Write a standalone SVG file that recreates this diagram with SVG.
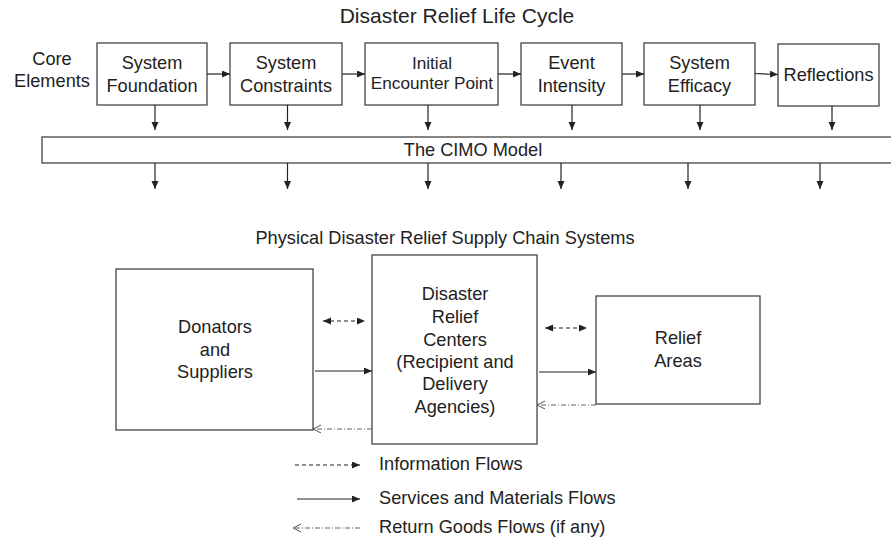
<svg xmlns="http://www.w3.org/2000/svg" width="891" height="538" viewBox="0 0 891 538">
<defs>
<marker id="ah" markerUnits="userSpaceOnUse" markerWidth="9" markerHeight="8" refX="8" refY="3.5" orient="auto-start-reverse"><path d="M0,0 L8,3.5 L0,7 z" fill="#222"/></marker>
<marker id="chev" markerUnits="userSpaceOnUse" markerWidth="10" markerHeight="10" refX="8" refY="4.5" orient="auto"><path d="M0,0.5 L8,4.5 L0,8.5" fill="none" stroke="#555" stroke-width="1"/></marker>
<style>
text{font-family:"Liberation Sans",Arial,sans-serif;font-size:18.2px;fill:#222;text-anchor:middle}
.box{fill:#fff;stroke:#444;stroke-width:1.3}
.ln{stroke:#222;stroke-width:1.2;fill:none}
.solid{marker-end:url(#ah)}
.info{stroke-dasharray:4,3;marker-start:url(#ah);marker-end:url(#ah)}
.ret{stroke:#666;stroke-dasharray:5,2,1,2;marker-end:url(#chev)}
.sm{font-size:17.2px}
.ttl{font-size:21px}
.lt{text-anchor:start}
</style>
</defs>
<text class="ttl" x="457" y="23">Disaster Relief Life Cycle</text>
<text x="52" y="65">Core</text>
<text x="52" y="87">Elements</text>
<g id="n1"><rect class="box" x="97" y="43" width="110" height="62"/><text x="152" y="69">System</text><text x="152" y="92">Foundation</text></g>
<g id="n2"><rect class="box" x="230" y="43" width="112" height="62"/><text x="286" y="69">System</text><text x="286" y="92">Constraints</text></g>
<g id="n3"><rect class="box" x="365" y="43" width="133" height="62"/><text class="sm" x="432" y="69">Initial</text><text class="sm" x="432" y="88.5">Encounter Point</text></g>
<g id="n4"><rect class="box" x="521" y="43" width="101" height="62"/><text x="571.5" y="69">Event</text><text x="571.5" y="92">Intensity</text></g>
<g id="n5"><rect class="box" x="644" y="43" width="111" height="62"/><text x="699.5" y="69">System</text><text x="699.5" y="92">Efficacy</text></g>
<g id="n6"><rect class="box" x="778" y="44" width="101" height="62"/><text x="828.5" y="81">Reflections</text></g>
<g id="cimo"><rect class="box" x="42" y="137" width="860" height="26"/><text x="473" y="155.5">The CIMO Model</text></g>
<text x="445" y="244">Physical Disaster Relief Supply Chain Systems</text>
<g id="donators"><rect class="box" x="116" y="269" width="197" height="161"/><text x="215" y="333">Donators</text><text x="215" y="356">and</text><text x="215" y="378">Suppliers</text></g>
<g id="centers"><rect class="box" x="372" y="255" width="165" height="189"/><text x="455" y="300">Disaster</text><text x="455" y="323">Relief</text><text x="455" y="346">Centers</text><text x="455" y="368">(Recipient and</text><text x="455" y="390">Delivery</text><text x="455" y="413">Agencies)</text></g>
<g id="relief"><rect class="box" x="596" y="296" width="164" height="108"/><text x="678" y="344">Relief</text><text x="678" y="367">Areas</text></g>
<g id="connectors">
<line class="ln solid" x1="207" y1="74" x2="230" y2="74"/>
<line class="ln solid" x1="342" y1="74" x2="365" y2="74"/>
<line class="ln solid" x1="498" y1="74" x2="521" y2="74"/>
<line class="ln solid" x1="622" y1="74" x2="644" y2="74"/>
<line class="ln solid" x1="755" y1="73.5" x2="778" y2="74.5"/>
<line class="ln solid" x1="155" y1="105" x2="155" y2="130"/>
<line class="ln solid" x1="287.5" y1="105" x2="287.5" y2="130"/>
<line class="ln solid" x1="428" y1="105" x2="428" y2="130"/>
<line class="ln solid" x1="572" y1="105" x2="572" y2="130"/>
<line class="ln solid" x1="700" y1="105" x2="700" y2="130"/>
<line class="ln solid" x1="832" y1="106" x2="832" y2="130"/>
<line class="ln solid" x1="155" y1="163" x2="155" y2="189"/>
<line class="ln solid" x1="287.5" y1="163" x2="287.5" y2="189"/>
<line class="ln solid" x1="428" y1="163" x2="428" y2="189"/>
<line class="ln solid" x1="561" y1="163" x2="561" y2="189"/>
<line class="ln solid" x1="688" y1="163" x2="688" y2="189"/>
<line class="ln solid" x1="820" y1="163" x2="820" y2="189"/>
<line class="ln info" x1="323" y1="321" x2="365" y2="321"/>
<line class="ln info" x1="545" y1="328" x2="587" y2="328"/>
<line class="ln solid" x1="315" y1="371" x2="372" y2="371"/>
<line class="ln solid" x1="539" y1="372" x2="596" y2="372"/>
<line class="ln ret" x1="372" y1="429" x2="313" y2="429"/>
<line class="ln ret" x1="596" y1="405" x2="537" y2="405"/>
<line class="ln" style="stroke-dasharray:4,3;marker-end:url(#ah)" x1="295" y1="465" x2="360" y2="465"/>
<line class="ln solid" x1="297" y1="499" x2="360" y2="499"/>
<line class="ln ret" x1="360" y1="528" x2="293" y2="528"/>
</g>
<text class="lt" x="379" y="470">Information Flows</text>
<text class="lt" x="379" y="504">Services and Materials Flows</text>
<text class="lt" x="379" y="533">Return Goods Flows (if any)</text>
</svg>
